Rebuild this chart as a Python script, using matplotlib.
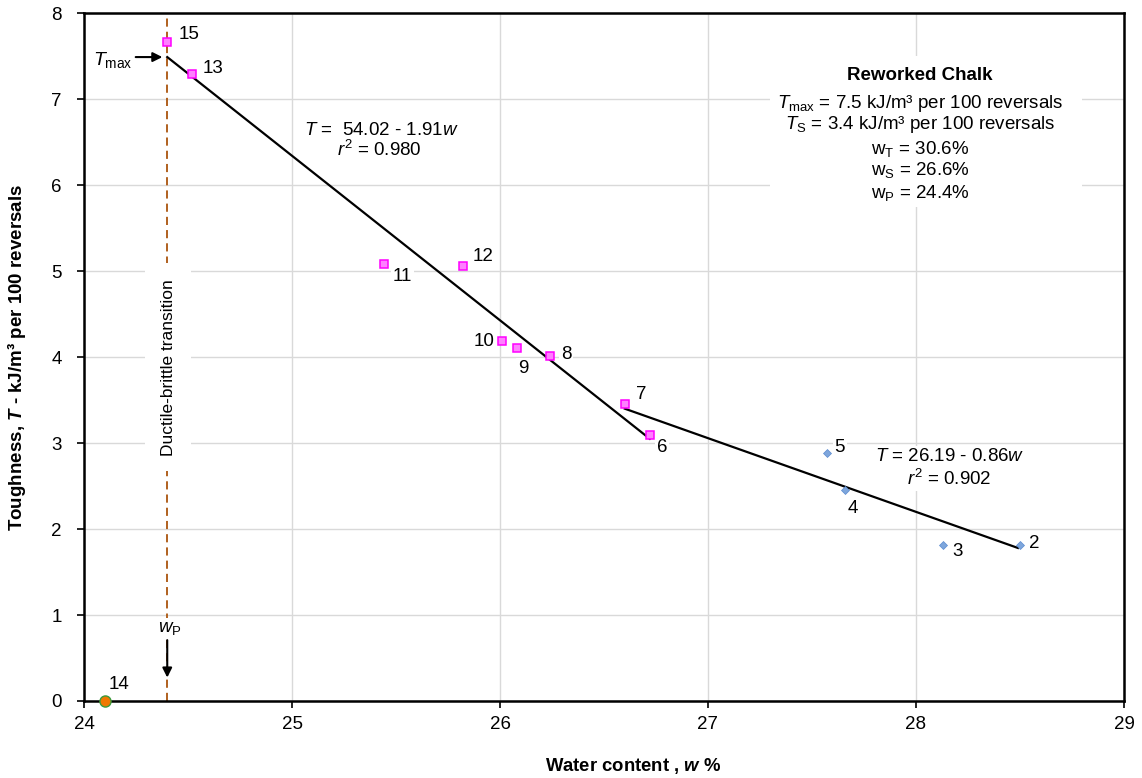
import matplotlib
matplotlib.use("Agg")
import matplotlib.pyplot as plt

plt.rcParams['font.family'] = ['Liberation Sans', 'DejaVu Sans']
plt.rcParams['mathtext.fontset'] = 'custom'
plt.rcParams['mathtext.rm'] = 'Liberation Sans'
plt.rcParams['mathtext.it'] = 'Liberation Sans:italic'
plt.rcParams['mathtext.bf'] = 'Liberation Sans:bold'
plt.rcParams['mathtext.bfit'] = 'Liberation Sans:italic:bold'

# samples 6-13, 15 (pink squares)
pink_ids = [6, 7, 8, 9, 10, 11, 12, 13, 15]
pink_w = [26.72, 26.60, 26.24, 26.08, 26.01, 25.44, 25.82, 24.52, 24.40]
pink_T = [3.09, 3.46, 4.01, 4.11, 4.19, 5.08, 5.06, 7.29, 7.66]

# samples 2-5 (blue diamonds)
blue_ids = [2, 3, 4, 5]
blue_w = [28.50, 28.13, 27.66, 27.57]
blue_T = [1.81, 1.82, 2.45, 2.89]

# sample 14 (plastic limit)
orange_ids = [14]
orange_w = [24.10]
orange_T = [0.0]

# regression lines (end points)
fit1_w = [24.40, 26.72]
fit1_T = [7.49, 3.05]
fit2_w = [26.60, 28.49]
fit2_T = [3.40, 1.78]

w_P = 24.4
T_max = 7.49

# label offsets in pixels (dx, dy, ha)
offsets = {
    15: (11, 8, 'left'), 13: (10, 6, 'left'), 12: (10, 9, 'left'),
    11: (9, -12, 'left'), 10: (-8, -1, 'right'), 9: (1, -21, 'left'),
    8: (11, 2, 'left'), 7: (11, 9, 'left'), 6: (7, -12, 'left'),
    5: (8, 5, 'left'), 4: (2, -18, 'left'), 3: (9, -7, 'left'),
    2: (9, 2, 'left'), 14: (4, 16, 'left'),
}

fig = plt.figure(figsize=(11.42, 7.78), dpi=100)
ax = fig.add_axes([0.0736, 0.099, 0.9106, 0.884])

ax.set_xlim(24, 29)
ax.set_ylim(0, 8)
ax.set_xticks(range(24, 30))
ax.set_yticks(range(0, 9))
ax.grid(True, color='#d9d9d9', linewidth=1.0, zorder=0)
ax.set_axisbelow(True)
for s in ax.spines.values():
    s.set_linewidth(1.8)
ax.tick_params(direction='out', length=5, width=1.2, labelsize=13.5)
ax.tick_params(axis='y', pad=11)
ax.tick_params(axis='x', pad=6)

bg = dict(boxstyle='square,pad=0.1', facecolor='white', edgecolor='none')

# ductile-brittle transition line
ax.plot([w_P, w_P], [0, 8], color='#b0601e', linewidth=1.4, dashes=(4.2, 2.6), zorder=2)
ax.text(w_P + 0.005, 3.88, 'Ductile-brittle transition', rotation=90, ha='center', va='center',
        fontsize=12.5, zorder=3,
        bbox=dict(boxstyle='square,pad=0.9', facecolor='white', edgecolor='none'))

# regression lines
ax.plot(fit1_w, fit1_T, color='black', linewidth=1.6, zorder=5)
ax.plot(fit2_w, fit2_T, color='black', linewidth=1.6, zorder=5)

# markers
ax.plot(pink_w, pink_T, linestyle='none', marker='s', markersize=6,
        markerfacecolor='#ff80ff', markeredgecolor='#ff00ff', markeredgewidth=1.1, zorder=6)
ax.plot(blue_w, blue_T, linestyle='none', marker='D', markersize=4,
        markerfacecolor='#7ea6dc', markeredgecolor='#5b8bd0', markeredgewidth=0.5, zorder=6)
ax.plot(orange_w, orange_T, linestyle='none', marker='o', markersize=8,
        markerfacecolor='#f07800', markeredgecolor='#3c9a3c', markeredgewidth=1.0,
        zorder=7, clip_on=False)

for ids, ws, Ts in [(pink_ids, pink_w, pink_T), (blue_ids, blue_w, blue_T),
                    (orange_ids, orange_w, orange_T)]:
    for i, w, T in zip(ids, ws, Ts):
        dx, dy, ha = offsets[i]
        ax.annotate(str(i), (w, T), xytext=(dx, dy), textcoords='offset pixels',
                    ha=ha, va='center', fontsize=13.5, zorder=4, bbox=bg)

# T_max arrow
ax.annotate('', xy=(w_P - 0.01, T_max), xytext=(24.235, T_max),
            arrowprops=dict(arrowstyle='-|>', color='black', lw=1.5, mutation_scale=14), zorder=6)
ax.text(24.232, 7.46, r'$T_{\rm max}$', ha='right', va='center', fontsize=14)

# w_P arrow
ax.annotate('', xy=(w_P, 0.24), xytext=(w_P, 0.74),
            arrowprops=dict(arrowstyle='-|>', color='black', lw=1.5, mutation_scale=14), zorder=6)
ax.text(w_P + 0.01, 0.84, r'$w_{\rm P}$', ha='center', va='center', fontsize=13.5, zorder=4, bbox=bg)

# regression equations
ax.text(25.43, 6.64, r'$T$ =  54.02 - 1.91$w$', ha='center', va='center', fontsize=13.5, zorder=4, bbox=bg)
ax.text(25.42, 6.41, r'$r^2$ = 0.980', ha='center', va='center', fontsize=13.5, zorder=4, bbox=bg)
ax.text(28.16, 2.84, r'$T$ = 26.19 - 0.86$w$', ha='center', va='center', fontsize=13.5, zorder=4, bbox=bg)
ax.text(28.16, 2.58, r'$r^2$ = 0.902', ha='center', va='center', fontsize=13.5, zorder=4, bbox=bg)

# summary box
ax.add_patch(plt.Rectangle((27.3, 5.75), 1.5, 1.75, facecolor='white', edgecolor='none', zorder=3))
ax.text(28.02, 7.28, 'Reworked Chalk', ha='center', va='center', fontsize=13.5,
        fontweight='bold', zorder=4)
box_lines = [
    r'$T_{\rm max}$ = 7.5 kJ/m³ per 100 reversals',
    r'$T_{\rm S}$ = 3.4 kJ/m³ per 100 reversals',
    r'w$_{\rm T}$ = 30.6%',
    r'w$_{\rm S}$ = 26.6%',
    r'w$_{\rm P}$ = 24.4%',
]
box_y = [6.95, 6.70, 6.42, 6.18, 5.91]
for txt, y in zip(box_lines, box_y):
    ax.text(28.02, y, txt, ha='center', va='center', fontsize=13.5, zorder=4)

ax.set_xlabel(r'Water content , $\mathbfit{w}$ %', fontsize=13.3, fontweight='bold')
ax.set_ylabel(r'Toughness, $\mathbfit{T}$ - kJ/m³ per 100 reversals', fontsize=13.5, fontweight='bold')
ax.xaxis.set_label_coords(0.528, -0.080)
ax.yaxis.set_label_coords(-0.054, 0.5)

fig.savefig('out.png', dpi=100)
